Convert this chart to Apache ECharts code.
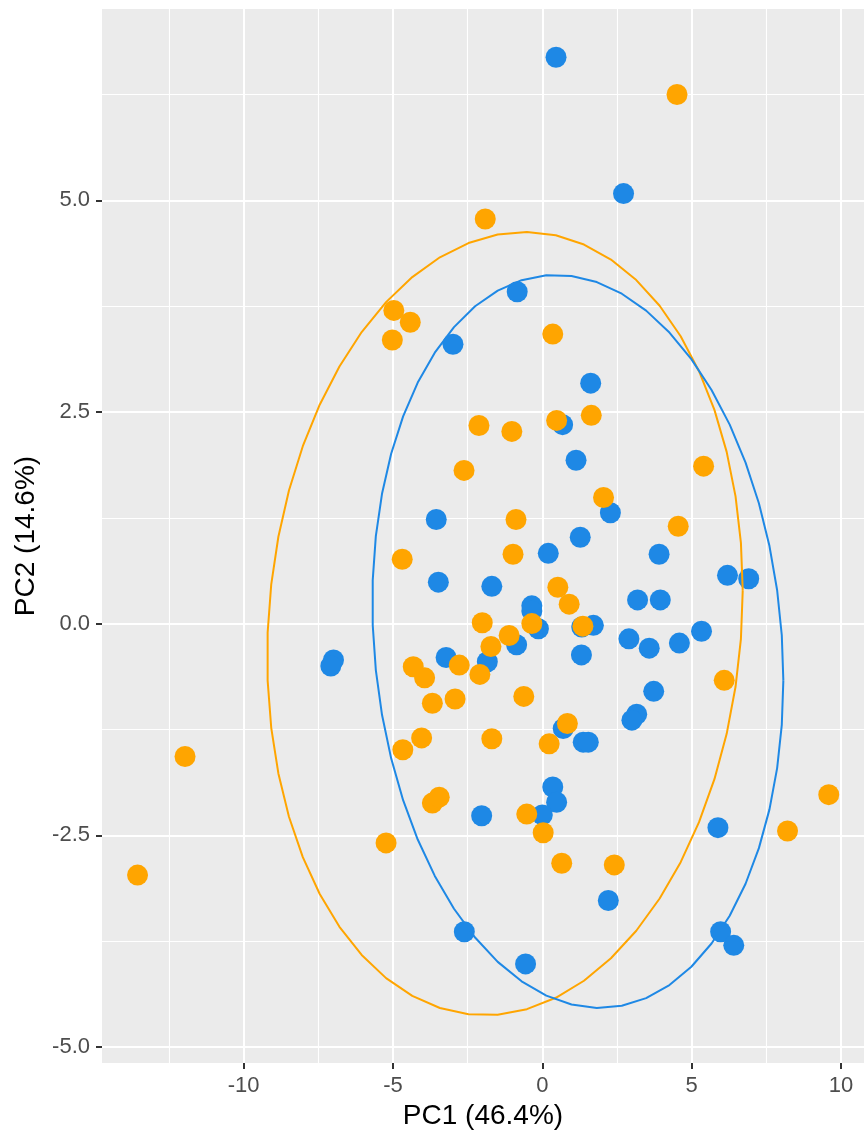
<!DOCTYPE html>
<html><head><meta charset="utf-8">
<script src="https://cdn.jsdelivr.net/npm/echarts@6/dist/echarts.min.js"></script>
<style>html,body{margin:0;padding:0;background:#fff}#c{width:867px;height:1135px}</style>
</head><body><div id="c"></div>
<script>
// ---- data ----
const blueX = [0.46, 2.72, -0.84, -2.99, 1.62, 0.68, 1.13, -3.55, 2.28, 1.27, 0.20, 3.91, 6.20, 6.91, -3.48, -1.69, -0.35, -0.35, 3.19, 3.95, -0.13, 1.32, 1.71, 2.90, 3.58, 4.59, 5.33, -0.86, -1.84, -3.22, 1.31, -6.99, -7.08, 3.73, 3.16, 3.00, 0.70, 1.37, 1.54, 0.35, 0.48, 0.00, -2.03, 5.88, 2.21, -2.61, 5.97, 6.41, -0.56];
const blueY = [6.69, 5.08, 3.92, 3.30, 2.84, 2.35, 1.93, 1.23, 1.31, 1.02, 0.83, 0.82, 0.57, 0.53, 0.49, 0.44, 0.21, 0.15, 0.28, 0.28, -0.06, -0.04, -0.02, -0.18, -0.29, -0.23, -0.09, -0.25, -0.45, -0.40, -0.37, -0.43, -0.50, -0.80, -1.07, -1.14, -1.24, -1.40, -1.40, -1.93, -2.11, -2.26, -2.27, -2.41, -3.27, -3.64, -3.64, -3.80, -4.02];
const orangeX = [4.51, -1.91, -4.97, -4.42, -5.02, 0.35, 1.64, 0.48, -2.12, -1.02, -2.62, 5.40, 2.05, -0.88, 4.55, -4.69, -0.98, 0.52, 0.90, -2.01, -0.35, 1.36, -1.11, -1.72, -4.32, -2.78, -3.94, -2.09, -0.62, 6.09, -3.68, -2.92, 0.84, -4.04, -1.69, 0.23, -4.67, -11.96, -3.68, -3.45, 9.59, -0.52, 0.03, 8.21, -5.23, 0.65, 2.41, -13.55];
const orangeY = [6.25, 4.78, 3.70, 3.56, 3.35, 3.42, 2.46, 2.40, 2.34, 2.27, 1.81, 1.86, 1.49, 1.23, 1.15, 0.76, 0.82, 0.43, 0.23, 0.01, 0.00, -0.03, -0.14, -0.27, -0.51, -0.49, -0.64, -0.60, -0.86, -0.67, -0.94, -0.89, -1.18, -1.35, -1.36, -1.42, -1.49, -1.57, -2.12, -2.05, -2.02, -2.25, -2.47, -2.45, -2.59, -2.83, -2.85, -2.97];
// ellipse parameters: [centerX, centerY, r11, r12, r22] (x = cx + r11 cos t ; y = cy + r12 cos t + r22 sin t)
const orangeEllipse = [-1.25, 0.0, 7.96, 0.39, 4.61];
const blueEllipse = [1.19, -0.21, 6.88, -0.46, 4.305];
const xTicks = [-10, -5, 0, 5, 10];
const xMinor = [-12.5, -7.5, -2.5, 2.5, 7.5];
const yTicks = [-5, -2.5, 0, 2.5, 5];
const yMinor = [-3.75, -1.25, 1.25, 3.75, 6.25];
const xRange = [-14.74, 10.77];
const yRange = [-5.19, 7.26];
const xTitle = 'PC1 (46.4%)';
const yTitle = 'PC2 (14.6%)';

// ---- build ----
function pairs(xs, ys) { return xs.map((x, i) => [x, ys[i]]); }
function ellipse(p, n) {
  const out = [];
  for (let i = 0; i <= n; i++) {
    const t = 2 * Math.PI * i / n;
    out.push([p[0] + p[2] * Math.cos(t), p[1] + p[3] * Math.cos(t) + p[4] * Math.sin(t)]);
  }
  return out;
}
const BLUE = '#1E88E5', ORANGE = '#FFA500';
const FONT = 'Liberation Sans, Arial, Helvetica, sans-serif';

const chart = echarts.init(document.getElementById('c'), null, {renderer: 'canvas'});
const minorAxis = (range, vals) => ({
  type: 'value', min: range[0], max: range[1],
  axisLine: {show: false, onZero: false},
  axisTick: {show: false, customValues: vals},
  axisLabel: {show: false, customValues: vals},
  splitLine: {show: true, lineStyle: {color: '#ffffff', width: 1.1}}
});

chart.setOption({
  animation: false,
  backgroundColor: '#ffffff',
  grid: {left: 102, right: 3, top: 9, bottom: 72, show: true, backgroundColor: '#EBEBEB', borderWidth: 0, outerBoundsMode: 'none', containLabel: false},
  xAxis: [{
    type: 'value', min: xRange[0], max: xRange[1], position: 'bottom',
    axisLine: {show: false, onZero: false},
    axisTick: {show: true, length: 6, lineStyle: {color: '#333333', width: 2}, customValues: xTicks},
    axisLabel: {customValues: xTicks, color: '#4D4D4D', fontSize: 22, fontFamily: FONT, margin: 12},
    splitLine: {show: true, lineStyle: {color: '#ffffff', width: 2}},
    name: xTitle, nameLocation: 'middle', nameGap: 38,
    nameTextStyle: {color: '#000000', fontSize: 28, fontFamily: FONT}
  }, minorAxis(xRange, xMinor)],
  yAxis: [{
    type: 'value', min: yRange[0], max: yRange[1], position: 'left',
    axisLine: {show: false, onZero: false},
    axisTick: {show: true, length: 6, lineStyle: {color: '#333333', width: 2}, customValues: yTicks},
    axisLabel: {customValues: yTicks, color: '#4D4D4D', fontSize: 22, fontFamily: FONT, margin: 12,
      formatter: v => Number(v).toFixed(1)},
    splitLine: {show: true, lineStyle: {color: '#ffffff', width: 2}},
    name: yTitle, nameLocation: 'middle', nameGap: 62, nameRotate: 90,
    nameTextStyle: {color: '#000000', fontSize: 28, fontFamily: FONT}
  }, minorAxis(yRange, yMinor)],
  series: [
    {type: 'scatter', xAxisIndex: 0, yAxisIndex: 0, data: pairs(blueX, blueY), symbolSize: 21,
     itemStyle: {color: BLUE, opacity: 1}, emphasis: {disabled: true}},
    {type: 'scatter', xAxisIndex: 0, yAxisIndex: 0, data: pairs(orangeX, orangeY), symbolSize: 21,
     itemStyle: {color: ORANGE, opacity: 1}, emphasis: {disabled: true}},
    {type: 'line', xAxisIndex: 0, yAxisIndex: 0, data: ellipse(orangeEllipse, 51), showSymbol: false, symbol: 'none',
     lineStyle: {color: ORANGE, width: 2}, emphasis: {disabled: true}},
    {type: 'line', xAxisIndex: 0, yAxisIndex: 0, data: ellipse(blueEllipse, 51), showSymbol: false, symbol: 'none',
     lineStyle: {color: BLUE, width: 2}, emphasis: {disabled: true}}
  ]
});
</script></body></html>
